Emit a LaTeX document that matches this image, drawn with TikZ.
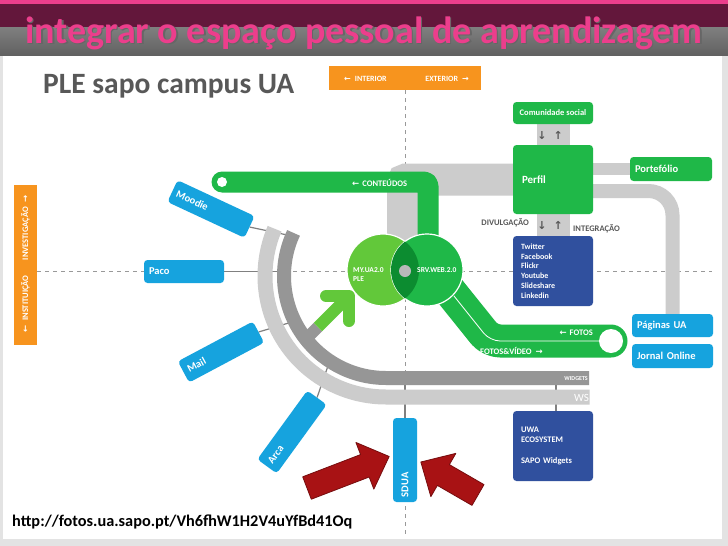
\documentclass[tikz,border=0pt]{standalone}
\usepackage{fontspec}
\setmainfont{Carlito}
\newfontfamily\arrfont{DejaVu Sans}
\usetikzlibrary{backgrounds}

\definecolor{titlepink}{RGB}{236,62,140}
\definecolor{barmaroon}{RGB}{99,23,59}
\definecolor{uaorange}{RGB}{247,148,30}
\definecolor{uablue}{RGB}{22,163,222}
\definecolor{uanavy}{RGB}{48,80,158}
\definecolor{uagreen}{RGB}{31,184,72}
\definecolor{lightgreen}{RGB}{98,200,58}
\definecolor{deepgreen}{RGB}{12,140,48}
\definecolor{bandlight}{RGB}{204,204,204}
\definecolor{banddark}{RGB}{150,150,150}
\definecolor{arrowred}{RGB}{168,18,20}
\definecolor{textgray}{RGB}{88,88,88}

\newcommand{\fsz}[1]{\fontsize{#1}{#1}\selectfont}
\newcommand{\arw}[1]{{\arrfont\bfseries #1}}

\begin{document}
\begin{tikzpicture}[x=1pt, y=-1pt, line join=round, line cap=round, font=\bfseries,
	box/.style={rounded corners=3.5pt, text=white, inner xsep=5pt, inner ysep=0pt, align=left, font=\bfseries\fsz{10.5}},
	bluebox/.style={box, fill=uablue},
	greenbox/.style={box, fill=uagreen},
	navybox/.style={box, fill=uanavy, inner xsep=8pt, font=\bfseries\fontsize{8}{9.7}\selectfont},
	orangebar/.style={fill=uaorange, inner sep=0pt},
	tag/.style={text=white, inner sep=0pt, font=\bfseries\fsz{8.5}},
	note/.style={text=textgray, inner sep=0pt, font=\bfseries\fsz{8.5}},
	wire/.style={draw=gray, line width=1.2pt},
	guide/.style={draw=gray!80, line width=1pt, dash pattern=on 4pt off 4pt, line cap=butt}]
	\tikzset{redarrow/.pic={
		\fill[arrowred, draw=arrowred!70!black, line width=.8pt] (0,-12) -- (#1-26,-12) -- (#1-26,-25) -- (#1,0) -- (#1-26,25) -- (#1-26,12) -- (0,12) -- cycle;
	}}
	\useasboundingbox (0,0) rectangle (728,546);
	% slide background and title bar
	\begin{scope}[on background layer]
		\fill[gray!22] (0,0) rectangle (728,546);
		\fill[white] (3,55) rectangle (722,539);
		\fill[titlepink] (0,0) rectangle (728,4);
		\fill[barmaroon] (0,4) rectangle (728,27);
		\shade[top color=black!50, bottom color=black!62] (0,27) rectangle (728,55);
	\end{scope}
	\node[anchor=base west, text=black!60, font=\bfseries\fsz{38}, inner sep=0pt] at (26.5,44.5) {integrar o espaço pessoal de aprendizagem};
	\node[anchor=base west, text=titlepink, font=\bfseries\fsz{38}, inner sep=0pt] (title) at (25,43) {integrar o espaço pessoal de aprendizagem};
	\node[anchor=base west, text=textgray, font=\bfseries\fsz{29.5}, inner sep=0pt] (subtitle) at (43,93) {PLE sapo campus UA};
	\node[anchor=base west, text=black, font=\bfseries\fsz{16.3}, inner sep=0pt] (source) at (12,526) {http://fotos.ua.sapo.pt/Vh6fhW1H2V4uYfBd41Oq};

	% axes
	\node[orangebar, minimum width=152pt, minimum height=24pt] (interior) at (405,78) {};
	\node[tag, font=\bfseries\fsz{8}, anchor=west] at (344,78.7) {\arw{←}\hspace{4pt}INTERIOR};
	\node[tag, font=\bfseries\fsz{8}, anchor=east] at (469,78.7) {EXTERIOR\hspace{4pt}\arw{→}};
	\node[orangebar, minimum width=23pt, minimum height=160pt] (institution) at (25.5,265) {};
	\node[tag, rotate=90] at (25.5,264) {\arw{←}\hspace{5pt}INSTITUIÇÃO\hspace{15pt}INVESTIGAÇÃO\hspace{5pt}\arw{→}};

	% boxes
	\node[bluebox, minimum height=23pt, text width=70pt] (paco) at (184,271.5) {Paco};
	\node[bluebox, rotate=-25, minimum height=24pt, text width=75pt] (moodie) at (211,209) {Moodie};
	\node[bluebox, rotate=28, minimum height=24pt, text width=75pt] (mail) at (221,352) {Mail};
	\node[bluebox, rotate=54, minimum height=24pt, text width=75pt] (arca) at (292,432) {Arca};
	\node[bluebox, rotate=90, minimum height=24pt, text width=74pt] (sdua) at (405,460) {SDUA};
	\node[greenbox, minimum width=80pt, minimum height=22pt, align=center, font=\bfseries\fsz{8.5}] (comunidade) at (553,113) {Comunidade social};
	\node[greenbox, minimum height=69pt, text width=62pt, inner xsep=9pt, font=\bfseries\fsz{11}] (perfil) at (553,179.5) {Perfil};
	\node[navybox, minimum height=70pt, text width=64pt] (redes) at (553,271) {Twitter\\Facebook\\Flickr\\Youtube\\Slideshare\\Linkedin};
	\node[greenbox, minimum height=24pt, text width=72pt] (portefolio) at (671,169) {Portefólio};
	\node[bluebox, minimum height=23pt, text width=71pt] (paginas) at (672.5,325.5) {Páginas UA};
	\node[bluebox, minimum height=24pt, text width=71pt] (jornal) at (672.5,356) {Jornal Online};
	\node[navybox, minimum height=70pt, text width=64pt, font=\bfseries\fontsize{8.5}{10.3}\selectfont] (uwa) at (553,446) {UWA\\ECOSYSTEM\\[10.3pt]SAPO Widgets};

	\begin{scope}[on background layer]
		\draw[guide] (interior.south) -- (405,536);
		\draw[guide] (institution.east |- paco.west) -- (712,271.5);
		% grey routes round Perfil
		\draw[bandlight, line width=32pt, line cap=butt, rounded corners=3pt] (403,255) |- (perfil.west);
		\draw[bandlight, line width=12pt, line cap=butt] (perfil.east |- portefolio.west) -- (portefolio.west);
		\draw[bandlight, line width=14pt, line cap=butt, rounded corners=24pt] (580,191) -| (paginas.north);
		\draw[bandlight, line width=33pt, line cap=butt] (comunidade) -- (perfil);
		\draw[bandlight, line width=33pt, line cap=butt] (perfil) -- (redes);
		% joints on the arcs
		\coordinate (pacojoin) at (284,271.5);
		\coordinate (moodiejoin) at (292,236);
		\coordinate (mailjoin) at (292,322);
		\coordinate (arcajoin) at (330,360);
		\coordinate (sduajoin) at (405,378);
		\coordinate (uwajoin) at (556,378);
		\draw[wire] (paco.east) -- (pacojoin);
		\draw[wire] (moodie.east) -- (moodiejoin);
		\draw[wire] (mail.east) -- (mailjoin);
		\draw[wire] (arca.east) -- (arcajoin);
		\draw[wire] (sdua.east) -- (sduajoin);
		\draw[wire] (uwa.north -| uwajoin) -- (uwajoin);
		% WS and WIDGETS arcs
		\draw[bandlight, line width=15pt] (386,276) ++(203:121) arc[start angle=203, end angle=90, radius=121] -- (589.5,397);
		\draw[banddark, line width=14pt] (386,276) ++(205:102) arc[start angle=205, end angle=90, radius=102] -- (589,378);
	\end{scope}
	\node[tag, font=\bfseries\fsz{6}, anchor=east] at (588,378.5) {WIDGETS};
	\node[tag, font=\mdseries\fsz{11}, anchor=east] at (589,397.5) {WS};

	% green routes
	\draw[uagreen, line width=21pt, rounded corners=4pt] (222,182) -- (428,182) -- (428,255);
	\fill[white] (222,182) circle[radius=5];
	\node[tag, anchor=west] at (352,182.5) {\arw{←}\hspace{3pt}CONTEÚDOS};
	\draw[uagreen, line width=33pt, rounded corners=10pt] (445,285) -- (490,341) -- (611,341);
	\draw[white, line width=.8pt, rounded corners=10pt] (454,296) -- (490,341) -- (611,341);
	\fill[white] (611,341) circle[radius=12];
	\node[tag, anchor=east] at (593,332.3) {\arw{←}\hspace{3pt}FOTOS};
	\node[tag, anchor=west] at (480,350.7) {FOTOS\&VÍDEO\hspace{4pt}\arw{→}};

	% arrow into the PLE
	\draw[banddark, line width=12pt, line cap=butt] (302,343) -- (318,327);
	\draw[lightgreen, line width=12pt, line cap=butt] (318,327) -- (349,296);
	\draw[lightgreen, line width=12pt] (326,296) -- (349,296) -- (349,321);

	% the two spaces
	\fill[lightgreen, draw=white, line width=1.2pt] (383,270) circle[radius=36];
	\fill[uagreen, draw=white, line width=1.2pt] (427,270) circle[radius=36];
	\begin{scope}
		\clip (383,270) circle[radius=36];
		\fill[deepgreen] (427,270) circle[radius=36];
	\end{scope}
	\fill[gray!55] (405,271) circle[radius=6];
	\node[tag, font=\bfseries\fontsize{7.5}{9}\selectfont, align=left, anchor=west] at (353,275) {MY.UA2.0\\PLE};
	\node[tag, font=\bfseries\fsz{7.5}, anchor=west] at (417,270.5) {SRV.WEB.2.0};

	% flows round Perfil
	\node[text=textgray, inner sep=0pt, font=\fsz{11}] at (550,135) {\arw{↓}\hspace{7pt}\arw{↑}};
	\node[text=textgray, inner sep=0pt, font=\fsz{11}] at (550,225) {\arw{↓}\hspace{7pt}\arw{↑}};
	\node[note, anchor=east] at (529,223) {DIVULGAÇÃO};
	\node[note, anchor=west] at (573,229) {INTEGRAÇÃO};

	% pointers to SDUA
	\pic[rotate=21] at (307,488) {redarrow=88};
	\pic[rotate=150] at (478,495) {redarrow=66};
\end{tikzpicture}
\end{document}
